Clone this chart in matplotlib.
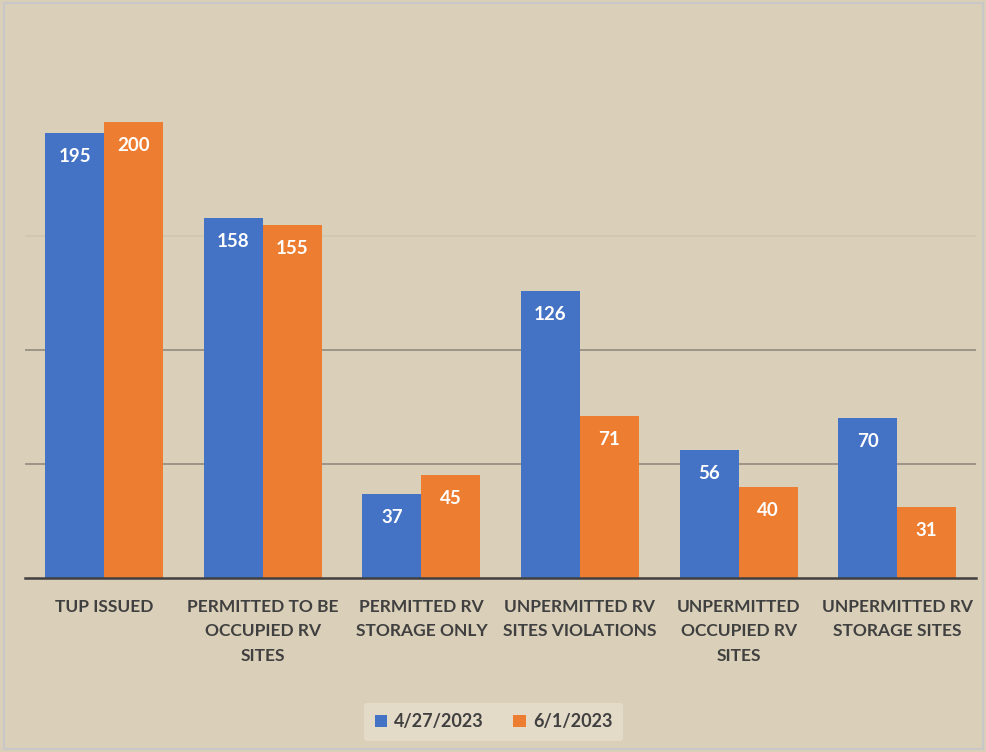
import numpy as np
import matplotlib.pyplot as plt

categories = ["TUP ISSUED", "PERMITTED TO BE\nOCCUPIED RV\nSITES", "PERMITTED RV\nSTORAGE ONLY",
              "UNPERMITTED RV\nSITES VIOLATIONS", "UNPERMITTED\nOCCUPIED RV\nSITES",
              "UNPERMITTED RV\nSTORAGE SITES"]
series_names = ["4/27/2023", "6/1/2023"]
vals_apr = [195, 158, 37, 126, 56, 70]
vals_jun = [200, 155, 45, 71, 40, 31]

bg = "#dad0b9"
colors = ["#4472C4", "#ED7D31"]
txt = "#404040"
plt.rcParams['font.family'] = ['Lato', 'DejaVu Sans']

fig = plt.figure(figsize=(9.87, 7.52), dpi=100)
fig.patch.set_facecolor(bg)
# thin frame around the picture
fig.add_artist(plt.Rectangle((0.004, 0.004), 0.992, 0.992, transform=fig.transFigure,
                             fill=False, edgecolor="#c8c8c8", linewidth=1.5))

ax = fig.add_axes([0.0253, 0.2314, 0.964, 0.758])
ax.set_facecolor("none")

x = np.arange(len(categories))
w = 0.372
bars1 = ax.bar(x - w / 2, vals_apr, w, color=colors[0], label=series_names[0], zorder=3)
bars2 = ax.bar(x + w / 2, vals_jun, w, color=colors[1], label=series_names[1], zorder=3)

for bars in (bars1, bars2):
    for b in bars:
        h = b.get_height()
        ax.annotate(str(int(h)), (b.get_x() + b.get_width() / 2, h), xytext=(0, -17),
                    textcoords="offset points", ha="center", va="center",
                    color="white", fontsize=13.5, fontweight="bold", zorder=4)

ax.set_xlim(-0.5, len(categories) - 0.5)
ax.set_ylim(0, 250)
ax.set_yticks([])
for yv, a in [(50, 0.9), (100, 0.9), (150, 0.12)]:
    ax.axhline(yv, color="#8a8478", linewidth=1.2, alpha=a, zorder=1)

for s in ["top", "right", "left"]:
    ax.spines[s].set_visible(False)
ax.spines["bottom"].set_color(txt)
ax.spines["bottom"].set_linewidth(1.8)
ax.spines["bottom"].set_zorder(5)

ax.set_xticks(x)
ax.set_xticklabels(categories, fontsize=12.5, fontweight="bold", color=txt, linespacing=1.65)
ax.tick_params(axis="x", length=0, pad=15)

leg = fig.legend(loc="center", bbox_to_anchor=(0.5, 0.04), ncol=2, frameon=True,
                 prop={"size": 13, "weight": "bold"}, handlelength=0.7, handleheight=0.7,
                 handletextpad=0.4, columnspacing=1.6, borderpad=0.6)
leg.get_frame().set_facecolor("#e6ddcb")
leg.get_frame().set_edgecolor("none")
leg.get_frame().set_alpha(0.8)
for t in leg.get_texts():
    t.set_color(txt)

fig.savefig("out.png", dpi=100, facecolor=bg)
